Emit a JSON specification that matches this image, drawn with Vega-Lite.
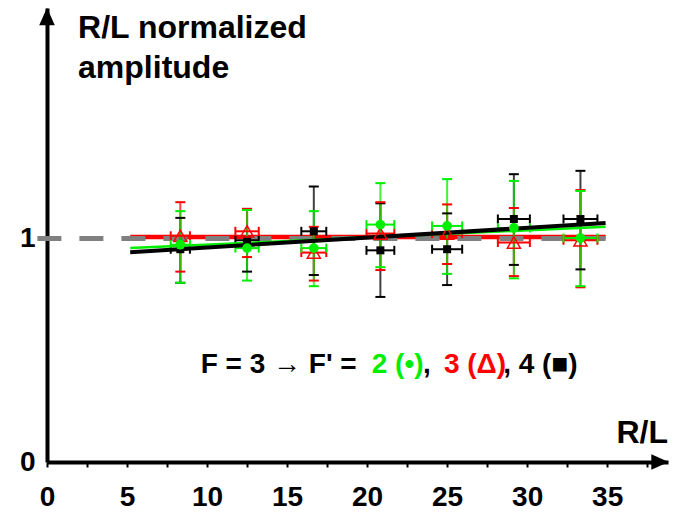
{
  "$schema": "https://vega.github.io/schema/vega-lite/v6.json",
  "width": 621,
  "height": 454,
  "autosize": {"type": "none"},
  "padding": {"left": 47, "top": 8, "right": 5, "bottom": 57},
  "background": "white",
  "config": {"view": {"stroke": null}, "font": "Liberation Sans",
    "axis": {"grid": false, "domainColor": "black", "domainWidth": 4, "labelFont": "Liberation Sans", "labelFontWeight": "bold", "labelFontSize": 28, "labelColor": "black", "tickColor": "black"}},
  "datasets": {
    "pts": [
      {"series": "4", "x": 8.33, "y": 0.95, "ylo": 0.80, "yhi": 1.09, "xlo": 7.73, "xhi": 8.93},
      {"series": "4", "x": 12.5, "y": 0.99, "ylo": 0.85, "yhi": 1.13, "xlo": 11.77, "xhi": 13.23},
      {"series": "4", "x": 16.67, "y": 1.03, "ylo": 0.835, "yhi": 1.23, "xlo": 15.89, "xhi": 17.45},
      {"series": "4", "x": 20.83, "y": 0.945, "ylo": 0.737, "yhi": 1.155, "xlo": 19.96, "xhi": 21.7},
      {"series": "4", "x": 25.0, "y": 0.95, "ylo": 0.79, "yhi": 1.11, "xlo": 24.06, "xhi": 25.94},
      {"series": "4", "x": 29.17, "y": 1.085, "ylo": 0.88, "yhi": 1.285, "xlo": 28.17, "xhi": 30.17},
      {"series": "4", "x": 33.33, "y": 1.085, "ylo": 0.86, "yhi": 1.30, "xlo": 32.27, "xhi": 34.39},
      {"series": "3", "x": 8.33, "y": 1.01, "ylo": 0.85, "yhi": 1.16, "xlo": 7.73, "xhi": 8.93},
      {"series": "3", "x": 12.5, "y": 1.03, "ylo": 0.915, "yhi": 1.13, "xlo": 11.77, "xhi": 13.23},
      {"series": "3", "x": 16.67, "y": 0.935, "ylo": 0.81, "yhi": 1.05, "xlo": 15.89, "xhi": 17.45},
      {"series": "3", "x": 20.83, "y": 1.02, "ylo": 0.857, "yhi": 1.16, "xlo": 19.96, "xhi": 21.7},
      {"series": "3", "x": 25.0, "y": 1.02, "ylo": 0.884, "yhi": 1.15, "xlo": 24.06, "xhi": 25.94},
      {"series": "3", "x": 29.17, "y": 0.98, "ylo": 0.83, "yhi": 1.134, "xlo": 28.17, "xhi": 30.17},
      {"series": "3", "x": 33.33, "y": 0.99, "ylo": 0.78, "yhi": 1.214, "xlo": 32.27, "xhi": 34.39},
      {"series": "2", "x": 8.33, "y": 0.97, "ylo": 0.80, "yhi": 1.12, "xlo": 7.73, "xhi": 8.93},
      {"series": "2", "x": 12.5, "y": 0.955, "ylo": 0.81, "yhi": 1.125, "xlo": 11.77, "xhi": 13.23},
      {"series": "2", "x": 16.67, "y": 0.955, "ylo": 0.785, "yhi": 1.12, "xlo": 15.89, "xhi": 17.45},
      {"series": "2", "x": 20.83, "y": 1.06, "ylo": 0.87, "yhi": 1.245, "xlo": 19.96, "xhi": 21.7},
      {"series": "2", "x": 25.0, "y": 1.054, "ylo": 0.84, "yhi": 1.263, "xlo": 24.06, "xhi": 25.94},
      {"series": "2", "x": 29.17, "y": 1.045, "ylo": 0.82, "yhi": 1.255, "xlo": 28.17, "xhi": 30.17},
      {"series": "2", "x": 33.33, "y": 1.0, "ylo": 0.785, "yhi": 1.21, "xlo": 32.27, "xhi": 34.39}
    ],
    "fits": [
      {"series": "3", "x": 5.2, "y": 1.005},
      {"series": "3", "x": 34.9, "y": 1.005},
      {"series": "2", "x": 5.2, "y": 0.955},
      {"series": "2", "x": 34.9, "y": 1.05},
      {"series": "4", "x": 5.2, "y": 0.937},
      {"series": "4", "x": 34.9, "y": 1.067}
    ],
    "ref": [
      {"x": -0.6, "y": 0.998},
      {"x": 34.9, "y": 0.998}
    ],
    "arrows": [
      {"axis": "x", "x": 38.3, "y": 0},
      {"axis": "y", "x": 0, "y": 1.989}
    ],
    "titles": [
      {"x": 1.94, "y": 1.9375, "text": "R/L normalized"},
      {"x": 1.94, "y": 1.759, "text": "amplitude"},
      {"x": 38.8, "y": 0.13, "text": "R/L"}
    ],
    "notes": [
      {"series": "4", "x": 9.6, "y": 0.433, "text": "F = 3 → F' = "},
      {"series": "2", "x": 20.29, "y": 0.433, "text": "2 (•)"},
      {"series": "4", "x": 23.5, "y": 0.433, "text": ", "},
      {"series": "3", "x": 24.8, "y": 0.433, "text": "3 (Δ)"},
      {"series": "4", "x": 28.5, "y": 0.433, "text": ", 4 (■)"}
    ]
  },
  "layer": [
    {
      "data": {"name": "fits"},
      "transform": [{"filter": "datum.series == '3'"}],
      "mark": {"type": "line", "color": "#FF0000", "strokeWidth": 4.5},
      "encoding": {
        "x": {"field": "x", "type": "quantitative", "title": null, "scale": {"domain": [0, 38.8], "nice": false, "zero": false},
          "axis": {"ticks": true, "tickWidth": 2, "tickSize": 5,
            "values": [0, 2.5, 5, 7.5, 10, 12.5, 15, 17.5, 20, 22.5, 25, 27.5, 30, 32.5, 35, 37.5],
            "labelExpr": "datum.value % 5 === 0 ? format(datum.value, 'd') : ''",
            "labelPadding": 16, "labelFlush": false, "labelOverlap": false}},
        "y": {"field": "y", "type": "quantitative", "title": null, "scale": {"domain": [0, 2.027], "nice": false, "zero": false},
          "axis": {"ticks": false, "values": [0, 1], "format": "d", "labelPadding": 12}}
      }
    },
    {
      "data": {"name": "ref"},
      "mark": {"type": "line", "color": "#808080", "strokeWidth": 5, "strokeDash": [24, 18]},
      "encoding": {
        "x": {"field": "x", "type": "quantitative", "title": null},
        "y": {"field": "y", "type": "quantitative", "title": null}
      }
    },
    {
      "data": {"name": "pts"},
      "mark": {"type": "rule", "strokeWidth": 2, "opacity": 0.75},
      "encoding": {
        "x": {"field": "x", "type": "quantitative", "title": null},
        "y": {"field": "ylo", "type": "quantitative", "title": null},
        "y2": {"field": "yhi"},
        "color": {"field": "series", "type": "nominal", "scale": {"domain": ["2", "3", "4"], "range": ["#00EE00", "#FF0000", "#000000"]}, "legend": null}
      }
    },
    {
      "data": {"name": "pts"},
      "mark": {"type": "tick", "orient": "horizontal", "size": 10, "thickness": 2, "opacity": 1},
      "encoding": {
        "x": {"field": "x", "type": "quantitative", "title": null},
        "y": {"field": "ylo", "type": "quantitative", "title": null},
        "color": {"field": "series", "type": "nominal", "legend": null}
      }
    },
    {
      "data": {"name": "pts"},
      "mark": {"type": "tick", "orient": "horizontal", "size": 10, "thickness": 2, "opacity": 1},
      "encoding": {
        "x": {"field": "x", "type": "quantitative", "title": null},
        "y": {"field": "yhi", "type": "quantitative", "title": null},
        "color": {"field": "series", "type": "nominal", "legend": null}
      }
    },
    {
      "data": {"name": "pts"},
      "mark": {"type": "rule", "strokeWidth": 2},
      "encoding": {
        "x": {"field": "xlo", "type": "quantitative", "title": null},
        "x2": {"field": "xhi"},
        "y": {"field": "y", "type": "quantitative", "title": null},
        "color": {"field": "series", "type": "nominal", "legend": null}
      }
    },
    {
      "data": {"name": "pts"},
      "mark": {"type": "tick", "orient": "vertical", "size": 9, "thickness": 2, "opacity": 1},
      "encoding": {
        "x": {"field": "xlo", "type": "quantitative", "title": null},
        "y": {"field": "y", "type": "quantitative", "title": null},
        "color": {"field": "series", "type": "nominal", "legend": null}
      }
    },
    {
      "data": {"name": "pts"},
      "mark": {"type": "tick", "orient": "vertical", "size": 9, "thickness": 2, "opacity": 1},
      "encoding": {
        "x": {"field": "xhi", "type": "quantitative", "title": null},
        "y": {"field": "y", "type": "quantitative", "title": null},
        "color": {"field": "series", "type": "nominal", "legend": null}
      }
    },
    {
      "data": {"name": "fits"},
      "transform": [{"filter": "datum.series == '2'"}],
      "mark": {"type": "line", "color": "#00EE00", "strokeWidth": 2.5},
      "encoding": {
        "x": {"field": "x", "type": "quantitative", "title": null},
        "y": {"field": "y", "type": "quantitative", "title": null}
      }
    },
    {
      "data": {"name": "fits"},
      "transform": [{"filter": "datum.series == '4'"}],
      "mark": {"type": "line", "color": "#000000", "strokeWidth": 4},
      "encoding": {
        "x": {"field": "x", "type": "quantitative", "title": null},
        "y": {"field": "y", "type": "quantitative", "title": null}
      }
    },
    {
      "data": {"name": "pts"},
      "transform": [{"filter": "datum.series == '4'"}],
      "mark": {"type": "point", "shape": "square", "filled": true, "size": 64, "color": "#000000", "opacity": 1},
      "encoding": {
        "x": {"field": "x", "type": "quantitative", "title": null},
        "y": {"field": "y", "type": "quantitative", "title": null}
      }
    },
    {
      "data": {"name": "pts"},
      "transform": [{"filter": "datum.series == '3'"}],
      "mark": {"type": "point", "shape": "triangle-up", "filled": false, "size": 170, "color": "#FF0000", "strokeWidth": 1.5, "opacity": 1},
      "encoding": {
        "x": {"field": "x", "type": "quantitative", "title": null},
        "y": {"field": "y", "type": "quantitative", "title": null}
      }
    },
    {
      "data": {"name": "pts"},
      "transform": [{"filter": "datum.series == '2'"}],
      "mark": {"type": "point", "shape": "circle", "filled": true, "size": 95, "color": "#00EE00", "opacity": 1},
      "encoding": {
        "x": {"field": "x", "type": "quantitative", "title": null},
        "y": {"field": "y", "type": "quantitative", "title": null}
      }
    },
    {
      "data": {"name": "arrows"},
      "transform": [{"filter": "datum.axis == 'x'"}],
      "mark": {"type": "point", "shape": "M 1 0 L -1 -0.9 L -1 0.9 Z", "filled": true, "size": 300, "color": "#000000", "opacity": 1},
      "encoding": {
        "x": {"field": "x", "type": "quantitative", "title": null},
        "y": {"field": "y", "type": "quantitative", "title": null}
      }
    },
    {
      "data": {"name": "arrows"},
      "transform": [{"filter": "datum.axis == 'y'"}],
      "mark": {"type": "point", "shape": "M 0 -1 L 0.9 1 L -0.9 1 Z", "filled": true, "size": 300, "color": "#000000", "opacity": 1},
      "encoding": {
        "x": {"field": "x", "type": "quantitative", "title": null},
        "y": {"field": "y", "type": "quantitative", "title": null}
      }
    },
    {
      "data": {"name": "titles"},
      "transform": [{"filter": "datum.text != 'R/L'"}],
      "mark": {"type": "text", "align": "left", "baseline": "middle", "font": "Liberation Sans", "fontWeight": "bold", "fontSize": 32, "color": "#000000"},
      "encoding": {
        "x": {"field": "x", "type": "quantitative", "title": null},
        "y": {"field": "y", "type": "quantitative", "title": null},
        "text": {"field": "text"}
      }
    },
    {
      "data": {"name": "titles"},
      "transform": [{"filter": "datum.text == 'R/L'"}],
      "mark": {"type": "text", "align": "right", "baseline": "middle", "font": "Liberation Sans", "fontWeight": "bold", "fontSize": 32, "color": "#000000"},
      "encoding": {
        "x": {"field": "x", "type": "quantitative", "title": null},
        "y": {"field": "y", "type": "quantitative", "title": null},
        "text": {"field": "text"}
      }
    },
    {
      "data": {"name": "notes"},
      "mark": {"type": "text", "align": "left", "baseline": "middle", "font": "Liberation Sans", "fontWeight": "bold", "fontSize": 28},
      "encoding": {
        "x": {"field": "x", "type": "quantitative", "title": null},
        "y": {"field": "y", "type": "quantitative", "title": null},
        "text": {"field": "text"},
        "color": {"field": "series", "type": "nominal", "legend": null}
      }
    }
  ]
}
